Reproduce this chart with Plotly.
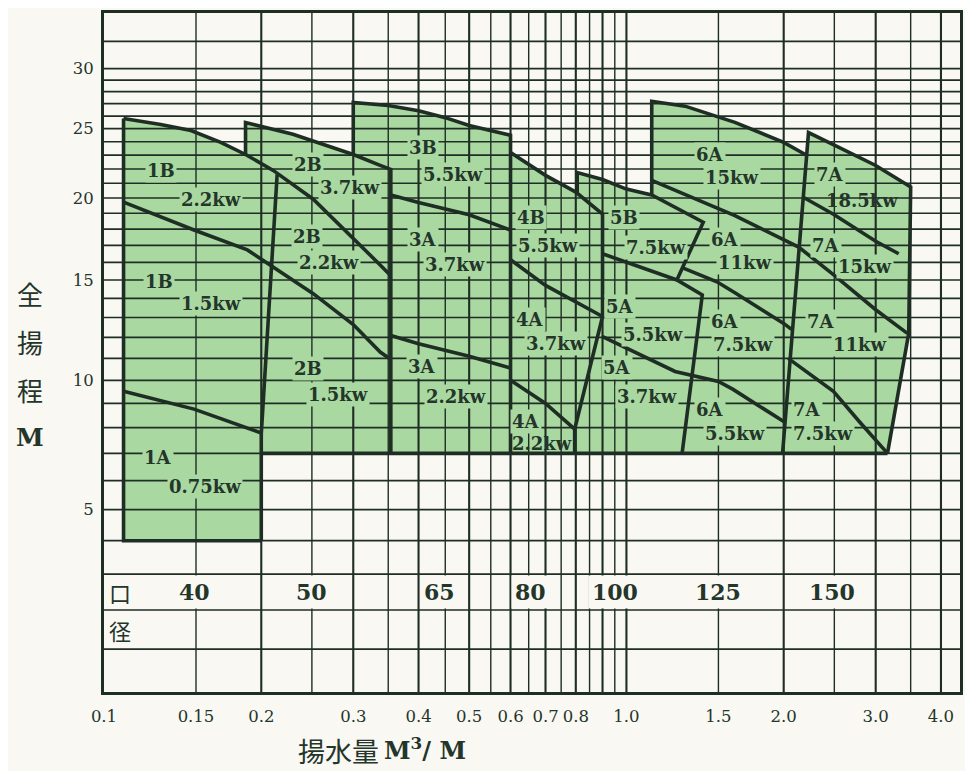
import numpy as np
import plotly.graph_objects as go

# ---------------- data (flow Q in m3/min, head H in m) ----------------
OFF = 10.0                      # vertical scale of the chart is log(H + 10)
Q_MIN, Q_MAX = 0.1, 4.35
H_MIN, H_MAX = 0.0, 35.27

grid_q_major = [0.2, 0.3, 0.4, 0.5, 0.6, 0.7, 0.8, 0.9, 1.0, 2.0, 3.0, 4.0]
grid_q_minor = [0.15, 0.25, 0.35, 0.45, 0.55, 0.65, 0.75, 0.85, 0.95, 1.5, 2.5, 3.5]
grid_h = list(range(1, 31)) + [32.5]

x_tick_vals = [0.1, 0.15, 0.2, 0.3, 0.4, 0.5, 0.6, 0.7, 0.8, 1.0, 1.5, 2.0, 3.0, 4.0]
x_tick_text = ["0.1", "0.15", "0.2", "0.3", "0.4", "0.5", "0.6", "0.7", "0.8", "1.0", "1.5", "2.0", "3.0", "4.0"]
y_tick_vals = [5, 10, 15, 20, 25, 30]
y_tick_text = ["5", "10", "15", "20", "25", "30"]

# operating regions (outlines) per bore size
reg40_q = [0.109, 0.1284, 0.1467, 0.1673, 0.1866, 0.2108, 0.2145, 0.2, 0.2, 0.109]
reg40_h = [25.8, 25.33, 24.86, 23.95, 23.05, 21.9, 21.62, 7.75, 4.0, 4.0]
reg50_q = [0.1866, 0.230, 0.3, 0.3378, 0.354, 0.354, 0.2, 0.2, 0.2145, 0.2108, 0.1866]
reg50_h = [25.48, 24.57, 23.05, 22.26, 21.97, 7.0, 7.0, 7.75, 21.62, 21.9, 23.05]
reg65_q = [0.3, 0.35, 0.4, 0.45, 0.5, 0.6, 0.6, 0.354, 0.354, 0.3378, 0.3]
reg65_h = [27.1, 26.85, 26.42, 25.87, 25.25, 24.5, 7.0, 7.0, 21.97, 22.26, 23.05]
reg80_q = [0.6, 0.7, 0.8, 0.9, 0.9, 0.796, 0.796, 0.6]
reg80_h = [23.2, 21.55, 20.4, 18.94, 13.05, 7.94, 7.0, 7.0]
reg100_q = [0.805, 0.9, 1.0, 1.118, 1.403, 1.249, 1.397, 1.278, 0.796, 0.796, 0.9, 0.9, 0.805]
reg100_h = [21.75, 21.26, 20.6, 20.2, 18.43, 15.0, 14.18, 7.0, 7.0, 7.94, 13.05, 18.94, 20.4]
reg125_q = [1.118, 1.295, 1.613, 2.0, 2.2, 1.99, 1.278, 1.397, 1.249, 1.403, 1.118]
reg125_h = [27.2, 26.8, 25.5, 23.95, 23.05, 7.0, 7.0, 14.18, 15.0, 18.43, 20.2]
reg150_q = [2.231, 2.5, 3.0, 3.5, 3.47, 3.16, 1.99]
reg150_h = [24.7, 23.75, 22.25, 20.75, 12.2, 7.0, 7.0]

# boundary lines (motor power limits and region edges)
edge40_q = [0.2, 0.109, 0.109];             edge40_h = [4.0, 4.0, 25.8]
slant12_q = [0.2, 0.2, 0.2145];             slant12_h = [4.0, 7.75, 21.62]
curveA_q = [0.109, 0.1284, 0.1467, 0.1673, 0.1866, 0.2108, 0.2515, 0.3, 0.3378, 0.354]
curveA_h = [25.8, 25.33, 24.86, 23.95, 23.05, 21.9, 19.92, 17.45, 15.85, 15.24]
curveB_q = [0.109, 0.1487, 0.1881, 0.208, 0.2515, 0.3, 0.3378, 0.354]
curveB_h = [19.73, 17.94, 16.73, 15.85, 14.25, 12.64, 11.3, 10.95]
curveC_q = [0.109, 0.1487, 0.2];           curveC_h = [9.52, 8.76, 7.79]
base_q = [0.2, 3.16];                       base_h = [7.0, 7.0]
b2_q = [0.1866, 0.1866, 0.230, 0.3, 0.3378, 0.354, 0.354]
b2_h = [23.05, 25.48, 24.57, 23.05, 22.26, 21.97, 7.0]
b3_q = [0.3, 0.3, 0.35, 0.4, 0.45, 0.5, 0.6, 0.6]
b3_h = [23.05, 27.1, 26.85, 26.42, 25.87, 25.25, 24.5, 7.0]
b3a_q = [0.354, 0.4, 0.5, 0.6];             b3a_h = [20.2, 19.7, 18.9, 17.94]
b3b_q = [0.354, 0.4, 0.5, 0.6];             b3b_h = [12.1, 11.7, 11.1, 10.55]
b4_q = [0.6, 0.7, 0.8, 0.9, 0.9, 0.796, 0.796]
b4_h = [23.2, 21.55, 20.4, 18.94, 13.05, 7.94, 7.0]
b4a_q = [0.6, 0.7, 0.9];                    b4a_h = [16.15, 14.7, 13.05]
b4b_q = [0.6, 0.7, 0.796];                  b4b_h = [10.0, 9.0, 7.94]
b5_q = [0.805, 0.805, 0.9, 1.0, 1.118, 1.403, 1.249]
b5_h = [20.4, 21.75, 21.26, 20.6, 20.2, 18.43, 15.0]
b5a_q = [0.9, 1.0, 1.249, 1.397, 1.278];    b5a_h = [16.5, 16.0, 15.0, 14.18, 7.0]
b5b_q = [0.9, 1.0, 1.239, 1.5, 1.6, 2.0];   b5b_h = [12.04, 11.5, 10.4, 9.95, 9.6, 8.25]
b6_q = [1.118, 1.118, 1.295, 1.613, 2.0, 2.2]
b6_h = [20.2, 27.2, 26.8, 25.5, 23.95, 23.05]
b6a_q = [1.118, 1.613, 2.136, 2.49, 3.0, 3.45]
b6a_h = [21.2, 18.85, 16.9, 15.3, 13.4, 12.2]
b6b_q = [1.278, 1.49, 1.613, 2.0, 2.07];    b6b_h = [15.7, 14.9, 14.3, 12.7, 12.4]
b7_q = [1.99, 2.231, 2.5, 3.0, 3.5, 3.47, 3.16]
b7_h = [7.0, 24.7, 23.75, 22.25, 20.75, 12.2, 7.0]
b7a_q = [2.18, 2.49, 3.0, 3.32];            b7a_h = [20.05, 18.94, 17.25, 16.5]
b7b_q = [2.04, 2.49, 2.79, 3.16];           b7b_h = [11.0, 9.52, 8.25, 7.0]

# model / motor labels
lab_text = ["1B", "2.2kw", "1B", "1.5kw", "1A", "0.75kw",
            "2B", "3.7kw", "2B", "2.2kw", "2B", "1.5kw",
            "3B", "5.5kw", "3A", "3.7kw", "3A", "2.2kw",
            "4B", "5.5kw", "4A", "3.7kw", "4A", "2.2kw",
            "5B", "7.5kw", "5A", "5.5kw", "5A", "3.7kw",
            "6A", "15kw", "6A", "11kw", "6A", "7.5kw", "6A", "5.5kw",
            "7A", "18.5kw", "7A", "15kw", "7A", "11kw", "7A", "7.5kw"]
lab_q = [0.1283, 0.160, 0.1272, 0.160, 0.127, 0.156,
         0.2456, 0.2962, 0.2446, 0.2695, 0.2456, 0.281,
         0.4086, 0.466, 0.4086, 0.469, 0.406, 0.4708,
         0.658, 0.709, 0.6549, 0.7316, 0.6415, 0.6895,
         0.988, 1.14, 0.9701, 1.122, 0.96, 1.094,
         1.447, 1.594, 1.546, 1.69, 1.546, 1.674, 1.447, 1.613,
         2.45, 2.83, 2.414, 2.86, 2.36, 2.80, 2.212, 2.38]
lab_h = [21.9, 19.92, 14.9, 13.72, 6.83, 5.78,
         22.3, 20.73, 17.51, 16.02, 10.55, 9.39,
         23.57, 21.6, 17.33, 15.85, 10.63, 9.31,
         18.75, 17.02, 12.89, 11.71, 8.27, 7.36,
         18.75, 16.9, 13.56, 12.14, 10.59, 9.31,
         23.05, 21.4, 17.33, 16.02, 12.79, 11.66, 8.76, 7.75,
         21.6, 19.86, 17.02, 15.74, 12.79, 11.66, 8.76, 7.75]

# bore sizes (口径) row
bore_text = ["40", "50", "65", "80", "100", "125", "150"]
bore_q = [0.1487, 0.25, 0.439, 0.655, 0.95, 1.5, 2.47]
bore_h = 2.49

# ---------------- styling ----------------
GREEN = "#a9d8a1"
DARK = "#1f2e24"
TXT = "#24352a"
BG = "#f9f8f3"
SERIF = "DejaVu Serif"
CJK = "Noto Sans CJK JP"

# figure is placed inside the browser's 8px page margin
FIG_W, FIG_H = 957, 763
M_L, M_R, M_T, M_B = 96, 3, 2, 79
PW = FIG_W - M_L - M_R
PH = FIG_H - M_T - M_B


def yy(h):
    return [v + OFF for v in h]


def px(x_abs):            # page x position -> paper fraction
    return (x_abs - 8 - M_L) / PW


def py(y_abs):            # page y position -> paper fraction
    return (FIG_H - M_B - (y_abs - 8)) / PH


fig = go.Figure()

regions = [(reg40_q, reg40_h), (reg50_q, reg50_h), (reg65_q, reg65_h), (reg80_q, reg80_h),
           (reg100_q, reg100_h), (reg125_q, reg125_h), (reg150_q, reg150_h)]
for q, h in regions:
    fig.add_trace(go.Scatter(x=q + [q[0]], y=yy(h + [h[0]]), mode="lines", fill="toself",
                             fillcolor=GREEN, line=dict(width=1, color=GREEN),
                             hoverinfo="skip", showlegend=False))


def vlines(qs):
    x, y = [], []
    for q in qs:
        x += [q, q, None]
        y += [H_MIN + OFF, H_MAX + OFF, None]
    return x, y


def hlines(hs):
    x, y = [], []
    for h in hs:
        x += [Q_MIN, Q_MAX, None]
        y += [h + OFF, h + OFF, None]
    return x, y


for qs, w in [(grid_q_minor, 1.4), (grid_q_major, 2.1)]:
    gx, gy = vlines(qs)
    fig.add_trace(go.Scatter(x=gx, y=gy, mode="lines", line=dict(color=DARK, width=w),
                             hoverinfo="skip", showlegend=False))
gx, gy = hlines(grid_h)
fig.add_trace(go.Scatter(x=gx, y=gy, mode="lines", line=dict(color=DARK, width=1.7),
                         hoverinfo="skip", showlegend=False))

bounds = [(edge40_q, edge40_h), (slant12_q, slant12_h), (curveA_q, curveA_h), (curveB_q, curveB_h),
          (curveC_q, curveC_h), (base_q, base_h), (b2_q, b2_h), (b3_q, b3_h), (b3a_q, b3a_h),
          (b3b_q, b3b_h), (b4_q, b4_h), (b4a_q, b4a_h), (b4b_q, b4b_h), (b5_q, b5_h),
          (b5a_q, b5a_h), (b5b_q, b5b_h), (b6_q, b6_h), (b6a_q, b6a_h), (b6b_q, b6b_h),
          (b7_q, b7_h), (b7a_q, b7a_h), (b7b_q, b7b_h)]
for q, h in bounds:
    fig.add_trace(go.Scatter(x=q, y=yy(h), mode="lines",
                             line=dict(color=DARK, width=3.6),
                             hoverinfo="skip", showlegend=False))

ann = []
for t, q, h in zip(lab_text, lab_q, lab_h):
    plain = (t == "18.5kw") or (h < 7.5 and t == "2.2kw")
    a = dict(x=np.log10(q), y=np.log10(h + OFF), xref="x", yref="y", text="<b>%s</b>" % t,
             xanchor="center", yanchor="middle", showarrow=False,
             font=dict(family=SERIF, size=18, color=TXT), borderpad=1)
    if not plain:
        a["bgcolor"] = GREEN
    ann.append(a)

for t, q in zip(bore_text, bore_q):
    ann.append(dict(x=np.log10(q), y=np.log10(bore_h + OFF), xref="x", yref="y", text="<b>%s</b>" % t,
                    xanchor="center", yanchor="middle", showarrow=False,
                    font=dict(family=SERIF, size=22, color=TXT), bgcolor=BG, borderpad=3))

for ch, hh in [("口", 2.49), ("径", 1.48)]:
    ann.append(dict(x=np.log10(0.1013), y=np.log10(hh + OFF), xref="x", yref="y", text=ch,
                    xanchor="left", yanchor="middle", showarrow=False,
                    font=dict(family=CJK, size=22, color=TXT)))

# axis titles
for ch, yab in [("全", 292), ("揚", 340), ("程", 388)]:
    ann.append(dict(x=px(30), y=py(yab), xref="paper", yref="paper", text=ch,
                    xanchor="center", yanchor="middle", showarrow=False,
                    font=dict(family=CJK, size=26, color=TXT)))
ann.append(dict(x=px(30), y=py(436), xref="paper", yref="paper", text="<b>M</b>",
                xanchor="center", yanchor="middle", showarrow=False,
                font=dict(family=SERIF, size=25, color=TXT)))
ann.append(dict(x=px(296), y=py(751), xref="paper", yref="paper", text="揚水量",
                xanchor="left", yanchor="middle", showarrow=False,
                font=dict(family=CJK, size=27, color=TXT)))
ann.append(dict(x=px(383), y=py(749), xref="paper", yref="paper",
                text="<b>M<sup>3</sup>/ M</b>", xanchor="left", yanchor="middle", showarrow=False,
                font=dict(family=SERIF, size=24, color=TXT)))

fig.update_layout(
    width=FIG_W, height=FIG_H, autosize=False,
    margin=dict(l=M_L, r=M_R, t=M_T, b=M_B, pad=0),
    paper_bgcolor=BG, plot_bgcolor=BG,
    showlegend=False, hovermode=False,
    annotations=ann,
    xaxis=dict(type="log", range=[np.log10(Q_MIN), np.log10(Q_MAX)],
               tickvals=x_tick_vals, ticktext=x_tick_text, ticks="",
               showgrid=False, zeroline=False, showline=True, mirror=True,
               linewidth=3, linecolor=DARK, ticklabelstandoff=7,
               tickfont=dict(family=SERIF, size=16.5, color=TXT)),
    yaxis=dict(type="log", range=[np.log10(H_MIN + OFF), np.log10(H_MAX + OFF)],
               tickvals=[v + OFF for v in y_tick_vals], ticktext=y_tick_text, ticks="",
               showgrid=False, zeroline=False, showline=True, mirror=True,
               linewidth=3, linecolor=DARK, ticklabelstandoff=4,
               tickfont=dict(family=SERIF, size=16.5, color=TXT)),
)

fig.write_html("out.html")
